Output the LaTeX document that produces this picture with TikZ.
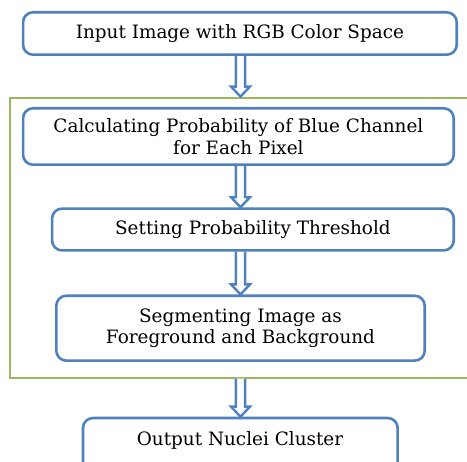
\documentclass[tikz,border=0pt]{standalone}
\usepackage{fontspec}
\setmainfont{DejaVu Serif}
\usetikzlibrary{calc,backgrounds}
\definecolor{boxblue}{RGB}{79,129,189}
\definecolor{grpgreen}{RGB}{155,187,89}
\tikzset{
  stepbox/.style={draw=boxblue, line width=2.6pt, rounded corners=10pt, fill=white,
    inner sep=0pt, align=center, font=\fontsize{18.4}{22.7}\selectfont},
  hollow/.style={draw=boxblue, line width=2.4pt, fill=white, line join=miter},
}
\newcommand\harrow[2]{%
  \draw[hollow] let \p0=(ax), \p1=(#1), \p2=(#2) in
  (\x0-4.6pt,\y1) -- (\x0-4.6pt,\y2+10pt) -- (\x0-9.4pt,\y2+10pt) -- (\x0,\y2)
  -- (\x0+9.4pt,\y2+10pt) -- (\x0+4.6pt,\y2+10pt) -- (\x0+4.6pt,\y1);}
\begin{document}
\begin{tikzpicture}[x=1pt,y=-1pt]
\useasboundingbox (0,0) rectangle (467,462);
\coordinate (ax) at (240.5,0);
\begin{scope}[on background layer]
\node[draw=grpgreen, line width=2pt, minimum width=470pt, minimum height=280pt,
  inner sep=0pt, anchor=north west] (grp) at (9,96.6) {};
\end{scope}
\node[stepbox, minimum width=433.7pt, minimum height=42.4pt] (b1) at (239.9,33.5)
  {Input Image with RGB Color Space};
\node[stepbox, minimum width=430.7pt, minimum height=56.4pt] (b2) at (238.4,136.5)
  {Calculating Probability of Blue Channel\\for Each Pixel};
\node[stepbox, minimum width=401.7pt, minimum height=41.8pt] (b3) at (252.9,229.5)
  {Setting Probability Threshold};
\node[stepbox, minimum width=368.4pt, minimum height=64.9pt,
  font=\fontsize{18.4}{20.7}\selectfont] (b4) at (240.5,328.2)
  {Segmenting Image as\\Foreground and Background};
\node[stepbox, minimum width=314.7pt, minimum height=54pt] (b5) at (240.3,445) {};
\node[font=\fontsize{18.4}{22.7}\selectfont, inner sep=0pt] (t5) at (240,440.3)
  {Output Nuclei Cluster};
\begin{scope}[on background layer]
\harrow{b1.south}{grp.north}
\harrow{b2.south}{b3.north}
\harrow{b3.south}{b4.north}
\harrow{grp.south}{b5.north}
\end{scope}
\end{tikzpicture}
\end{document}
